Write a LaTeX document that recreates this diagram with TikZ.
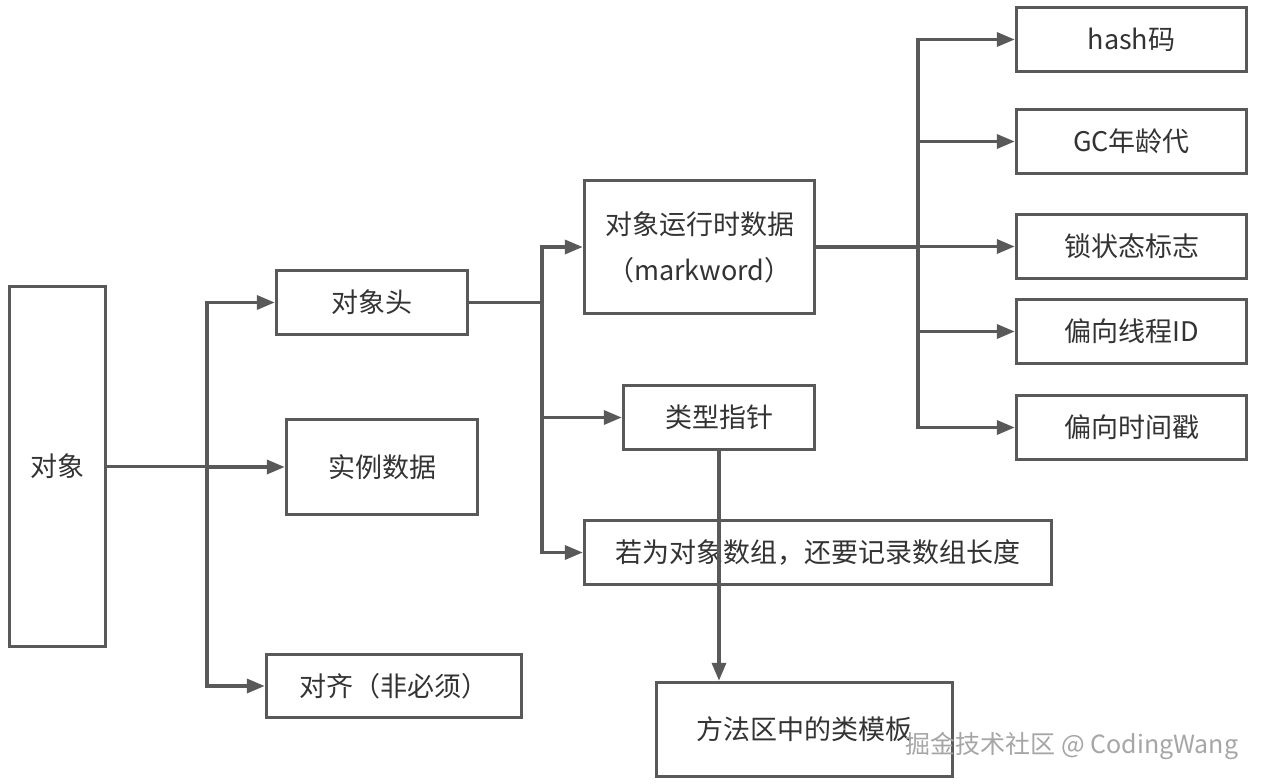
\documentclass[tikz,border=0pt]{standalone}
\usepackage{fontspec}
\setmainfont{Noto Sans CJK SC}
\usepackage{tikz}
\usetikzlibrary{arrows.meta}
\definecolor{edgegray}{HTML}{595959}
\definecolor{textgray}{HTML}{333333}

\begin{document}
\begin{tikzpicture}[x=1pt, y=-1pt,
		box/.style={draw=edgegray, line width=3.5pt, text=textgray, font=\fontsize{27}{46}\selectfont, align=center, inner sep=0pt},
		leaf/.style={box, minimum width=230pt, minimum height=64pt},
		conn/.style={draw=edgegray, line width=3.5pt, -{Triangle[length=18pt, width=14pt]}}]
		%%%%% START %%%%%
		
		\fill[white] (0, 0) rectangle (1261, 784);
		\useasboundingbox (0, 0) rectangle (1261, 784);
		
		\node[box, minimum width=96pt, minimum height=360pt] (obj) at (57.5, 466.5) {对象};
		
		\node[box, minimum width=191pt, minimum height=64pt] (head) at (372, 302.5) {对象头};
		\node[box, minimum width=191pt, minimum height=95pt] (inst) at (382, 467) {实例数据};
		\node[box, minimum width=255pt, minimum height=63pt] (pad) at (394, 686) {对齐（非必须）};
		
		\node[box, minimum width=230pt, minimum height=133pt] (mark) at (699.5, 247) {对象运行时数据\\（markword）};
		\node[box, minimum width=191pt, minimum height=64pt] (klass) at (719, 417.5) {类型指针};
		\node[box, minimum width=467pt, minimum height=64pt] (arrlen) at (818, 552.5) {若为对象数组，还要记录数组长度};
		\node[box, minimum width=296pt, minimum height=94pt] (meth) at (804.5, 729.5) {方法区中的类模板};
		
		\node[leaf] (hash) at (1131.5, 39.5) {hash码};
		\node[leaf] (age) at (1131.5, 141.5) {GC年龄代};
		\node[leaf] (lock) at (1131.5, 246.5) {锁状态标志};
		\node[leaf] (tid) at (1131.5, 331.5) {偏向线程ID};
		\node[leaf] (stamp) at (1131.5, 427.5) {偏向时间戳};
		
		\coordinate (t1) at (207, 466.5);
		\coordinate (t2) at (542, 302.5);
		\coordinate (t3) at (918, 247);
		
		\draw[conn] (obj.east) -- (t1) |- (head.west);
		\draw[conn] (t1) |- (inst.west);
		\draw[conn] (t1) |- (pad.west);
		
		\draw[conn] (head.east) -- (t2) |- (mark.west);
		\draw[conn] (t2) |- (klass.west);
		\draw[conn] (t2) |- (arrlen.west);
		
		\draw[conn] (mark.east) -- (t3) |- (hash.west);
		\draw[conn] (t3) |- (age.west);
		\draw[conn] (t3) |- (lock.west);
		\draw[conn] (t3) |- (tid.west);
		\draw[conn] (t3) |- (stamp.west);
		
		\draw[conn] (klass.south) -- (klass.south |- meth.north);
		
		\node[text=black!35, font=\fontsize{25}{30}\selectfont] (mark2) at (1072, 746) {掘金技术社区 @ CodingWang};
		
		%%%%% END %%%%%
	\end{tikzpicture}
\end{document}
